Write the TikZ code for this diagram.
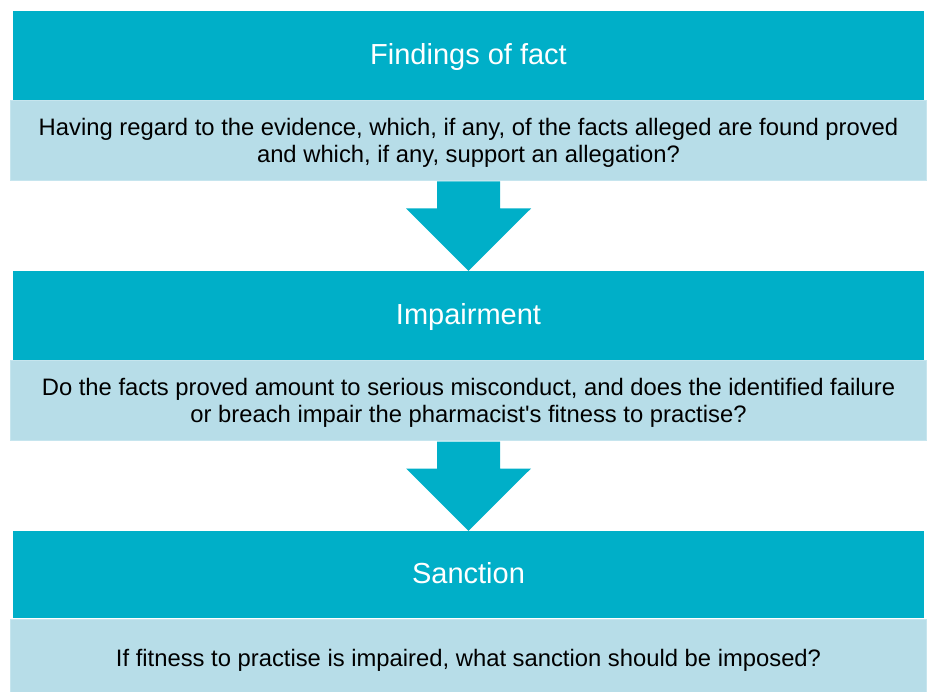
\documentclass[tikz,border=0pt]{standalone}
\usepackage{fontspec}
\setmainfont{Liberation Sans}
\usetikzlibrary{calc}
\definecolor{headblue}{HTML}{00AFC8}
\definecolor{bodyblue}{HTML}{B7DDE8}
\definecolor{bodyedge}{HTML}{C6E5EE}
\begin{document}
\begin{tikzpicture}[x=1pt,y=-1pt,
  head/.style={fill=headblue, text=white, minimum width=911pt, inner sep=0pt,
    text height=18pt, text depth=0pt, font=\fontsize{29}{34}\selectfont},
  ques/.style={fill=bodyblue, draw=bodyedge, line width=1pt, minimum width=916pt, inner sep=0pt,
    align=center, font=\fontsize{23.8}{27}\selectfont},
  down/.style={fill=headblue}]
\useasboundingbox (0,0) rectangle (928,692);
\node[head, minimum height=89pt] (fact) at (468.5,55.5) {Findings of fact};
\node[ques, minimum height=80pt, text depth=0pt] (q1) at (468.5,140.5) {Having regard to the evidence, which, if any, of the facts alleged are found proved\\and which, if any, support an allegation?};
\node[head, minimum height=89pt] (impair) at (468.5,315.5) {Impairment};
\node[ques, minimum height=80pt, text depth=0pt] (q2) at (468.5,400.5) {Do the facts proved amount to serious misconduct, and does the identified failure\\or breach impair the pharmacist\textquotesingle s fitness to practise?};
\node[head, minimum height=87pt] (sanc) at (468.5,574.5) {Sanction};
\node[ques, minimum height=73pt, text height=21pt, text depth=0pt] (q3) at (468.5,655.5) {If fitness to practise is impaired, what sanction should be imposed?};
% block arrows between the stages
\fill[down] (q1.south) ++(-31.5,0.5) -- ++(63,0) -- ++(0,27) -- ++(31,0) -- (impair.north)
  -- ($(q1.south)+(-62.5,27.5)$) -- ++(31,0) -- cycle;
\fill[down] (q2.south) ++(-31.5,0.5) -- ++(63,0) -- ++(0,27) -- ++(31,0) -- (sanc.north)
  -- ($(q2.south)+(-62.5,27.5)$) -- ++(31,0) -- cycle;
\end{tikzpicture}
\end{document}
